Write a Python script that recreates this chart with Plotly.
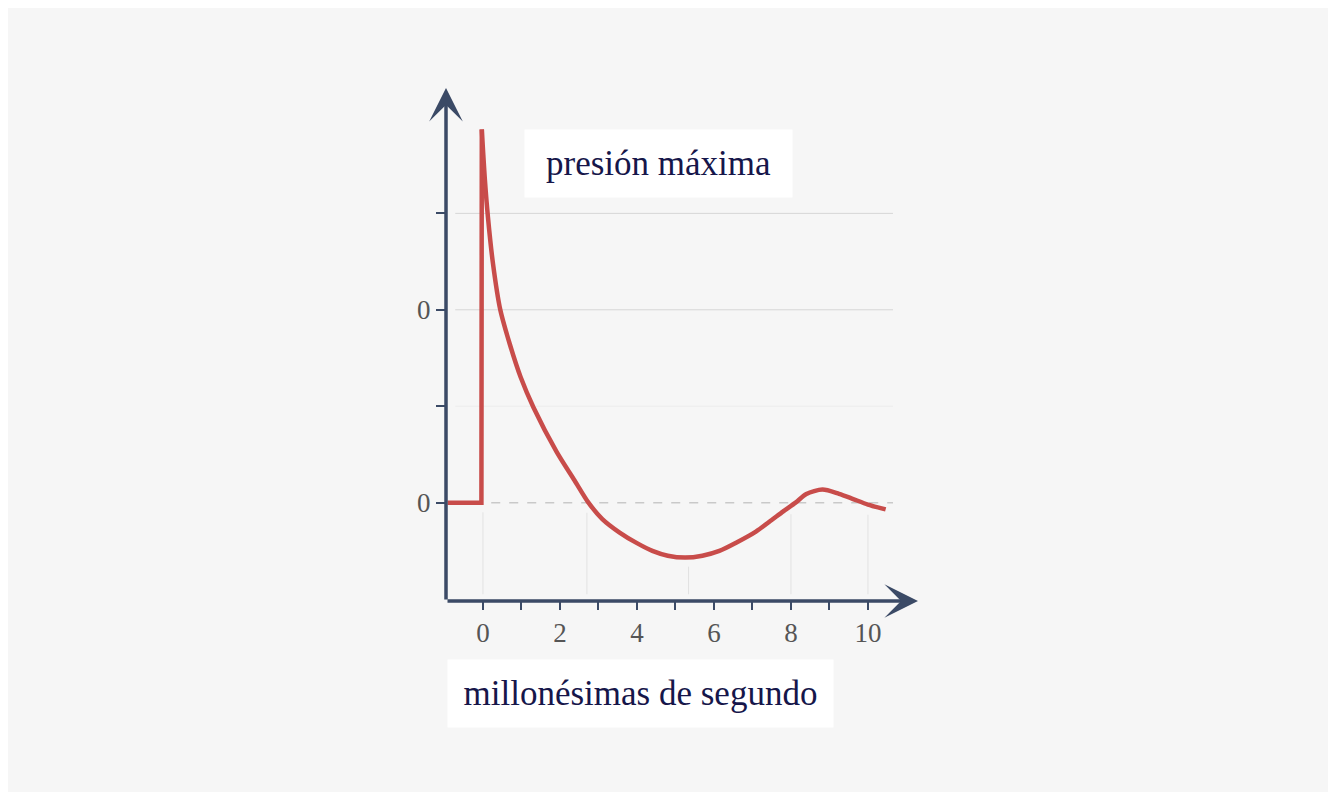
import numpy as np
import plotly.graph_objects as go

# pressure pulse (x in millionths of a second)
TIME = [-0.92, -0.04, -0.03, 0.05, 0.13, 0.26, 0.45, 0.7, 0.98, 1.31, 1.91, 2.38, 2.74,
        3.1, 3.55, 4.0, 4.4, 4.8, 5.25, 5.7, 6.14, 6.6, 7.09, 7.5, 7.8,
        8.12, 8.4, 8.82, 9.25, 9.6, 10.0, 10.46]
PRESSURE = [0.0, 0.0, 3.87, 3.35, 2.96, 2.48, 2.0, 1.64, 1.3, 0.99, 0.53, 0.23, 0.0,
            -0.17, -0.31, -0.42, -0.5, -0.55, -0.57, -0.55, -0.5, -0.41, -0.3, -0.18, -0.09,
            0.0, 0.09, 0.135, 0.09, 0.04, -0.02, -0.07]

X_TICKS = [0, 1, 2, 3, 4, 5, 6, 7, 8, 9, 10]
X_LABELS = ["0", "", "2", "", "4", "", "6", "", "8", "", "10"]
Y_TICKS = [0, 1, 2, 3]
Y_LABELS = ["0", "", "0", ""]

GRID_Y = [3, 2, 1]
VLINE_X = [0, 2.7, 5.34, 8, 10]

TITLE = "presión máxima"
X_TITLE = "millonésimas de segundo"

X_RANGE = [-0.96, 11.3]
Y_RANGE = [-1.02, 4.3]

AXIS_COLOR = "#3b4a66"
CURVE_COLOR = "#c84c4a"
BG = "#f6f6f6"
FONT = "Liberation Serif"

fig = go.Figure()

# horizontal guide lines
for gy in GRID_Y:
    fig.add_shape(type="line", x0=-0.72, x1=10.65, y0=gy, y1=gy,
                  line=dict(color="#d6d6d6" if gy != 1 else "#ececec", width=1), layer="below")
fig.add_shape(type="line", x0=-0.72, x1=10.65, y0=0, y1=0,
              line=dict(color="#c9c9c9", width=1.5, dash="dash"), layer="below")

# vertical guide lines from the axis up to just below the curve
for vx in VLINE_X:
    top = min(float(np.interp(vx + 0.05, TIME, PRESSURE)), 0.0) - 0.1
    fig.add_shape(type="line", x0=vx, x1=vx, y0=-0.95, y1=top,
                  line=dict(color="#e2e2e2", width=1), layer="below")

# flat part and the jump, then the smooth decay
fig.add_trace(go.Scatter(x=TIME[:3], y=PRESSURE[:3], mode="lines",
                         line=dict(color=CURVE_COLOR, width=4.5),
                         hoverinfo="skip", showlegend=False))
fig.add_trace(go.Scatter(x=TIME[2:], y=PRESSURE[2:], mode="lines",
                         line=dict(color=CURVE_COLOR, width=4.5, shape="spline", smoothing=0.8),
                         hoverinfo="skip", showlegend=False))

# axes with arrowheads
fig.add_annotation(x=X_RANGE[1], y=Y_RANGE[0], ax=X_RANGE[0], ay=Y_RANGE[0],
                   xref="x", yref="y", axref="x", ayref="y", text="",
                   showarrow=True, arrowhead=3, arrowsize=1.6, arrowwidth=3.5,
                   arrowcolor=AXIS_COLOR)
fig.add_annotation(x=X_RANGE[0], y=Y_RANGE[1], ax=X_RANGE[0], ay=Y_RANGE[0],
                   xref="x", yref="y", axref="x", ayref="y", text="",
                   showarrow=True, arrowhead=3, arrowsize=1.6, arrowwidth=3.5,
                   arrowcolor=AXIS_COLOR)

# white label boxes
fig.add_annotation(x=0.45, y=0.853, xref="paper", yref="paper", text=TITLE,
                   showarrow=False, xanchor="center", yanchor="middle",
                   width=267, height=67, borderpad=0, bgcolor="white",
                   font=dict(family=FONT, size=35, color="#16164a"))
fig.add_annotation(x=0.412, y=-0.18, xref="paper", yref="paper", text=X_TITLE,
                   showarrow=False, xanchor="center", yanchor="middle",
                   width=385, height=67, borderpad=0, bgcolor="white",
                   font=dict(family=FONT, size=35, color="#16164a"))

# the page adds an 8px body margin, so the figure is 16px smaller
fig.update_layout(
    width=1320, height=784,
    paper_bgcolor=BG, plot_bgcolor=BG,
    margin=dict(l=438, r=410, t=80, b=191),
    showlegend=False,
    xaxis=dict(range=X_RANGE, tickvals=X_TICKS, ticktext=X_LABELS,
               ticks="outside", ticklen=8, tickwidth=2, tickcolor=AXIS_COLOR,
               showgrid=False, zeroline=False, showline=False,
               tickfont=dict(family=FONT, size=27, color="#555555")),
    yaxis=dict(range=Y_RANGE, tickvals=Y_TICKS, ticktext=Y_LABELS,
               ticks="outside", ticklen=9, tickwidth=1.5, tickcolor=AXIS_COLOR,
               showgrid=False, zeroline=False, showline=False,
               tickfont=dict(family=FONT, size=27, color="#555555")),
)

fig.write_html("out.html")
